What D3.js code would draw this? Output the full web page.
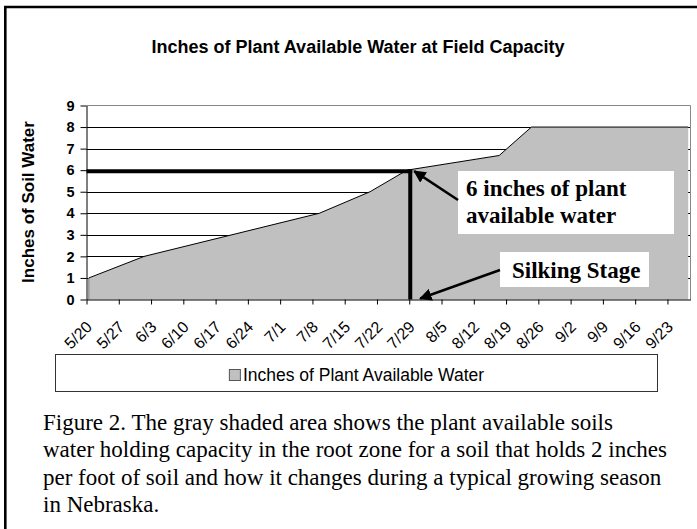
<!DOCTYPE html>
<html lang="en">
<head>
    <meta charset="UTF-8">
    <title>Inches of Plant Available Water at Field Capacity</title>
    <script src="https://d3js.org/d3.v7.min.js"></script>
    <style>
        body {
            margin: 0;
            background: #fff;
        }

        svg {
            display: block;
        }

        .sans {
            font-family: "Liberation Sans", Arial, sans-serif;
        }

        .serif {
            font-family: "Liberation Serif", "Times New Roman", serif;
        }
    </style>
</head>
<body>
    <script>
        // season data (month/day)
        const pointDates = ["5/20", "6/1", "7/9", "7/20", "7/28", "8/17", "8/24", "9/27"];
        const waterInches = [1, 2, 4, 5, 6, 6.68, 8, 8];

        const tickLabels = ["5/20", "5/27", "6/3", "6/10", "6/17", "6/24", "7/1", "7/8", "7/15",
            "7/22", "7/29", "8/5", "8/12", "8/19", "8/26", "9/2", "9/9", "9/16", "9/23"];
        const yTicks = [0, 1, 2, 3, 4, 5, 6, 7, 8, 9];

        const silkingDate = "7/29";
        const silkingWater = 6;

        const captionLines = [
            "Figure 2. The gray shaded area shows the plant available soils",
            "water holding capacity in the root zone for a soil that holds 2 inches",
            "per foot of soil and how it changes during a typical growing season",
            "in Nebraska."
        ];

        const width = 697
        const height = 529

        const parseDay = s => {
            const [m, d] = s.split("/").map(Number)
            return new Date(Date.UTC(2001, m - 1, d))
        }
        const midDay = s => d3.utcHour.offset(parseDay(s), 12)

        const data = pointDates.map((d, i) => ({ date: midDay(d), v: waterInches[i] }))

        const svg = d3.select("body").append("svg")
            .attr("width", width)
            .attr("height", height)

        // plot area
        const pLeft = 86.5, pRight = 690.5, pTop = 105.5, pBottom = 299.5

        const x = d3.scaleUtc()
            .domain([parseDay("5/20"), parseDay("9/28")])
            .range([pLeft, pRight])
        const y = d3.scaleLinear()
            .domain([0, 9])
            .range([pBottom, pTop])

        // outer frame
        svg.append("path")
            .attr("d", `M5.3,${height + 5} V7 H${width + 5}`)
            .attr("fill", "none")
            .attr("stroke", "#000")
            .attr("stroke-width", 2.6)

        svg.append("text")
            .attr("class", "sans")
            .attr("x", 358)
            .attr("y", 53)
            .attr("text-anchor", "middle")
            .attr("font-size", 18)
            .attr("font-weight", "bold")
            .text("Inches of Plant Available Water at Field Capacity")

        svg.append("text")
            .attr("class", "sans")
            .attr("transform", "translate(34,202) rotate(-90)")
            .attr("text-anchor", "middle")
            .attr("font-size", 17)
            .attr("font-weight", "bold")
            .text("Inches of Soil Water")

        // gridlines behind the area
        svg.append("g")
            .selectAll("line")
            .data(yTicks.filter(t => t > 0 && t < 9))
            .join("line")
            .attr("x1", pLeft)
            .attr("x2", pRight)
            .attr("y1", d => Math.round(y(d)) + 0.5)
            .attr("y2", d => Math.round(y(d)) + 0.5)
            .attr("stroke", "#000")
            .attr("stroke-width", 1)

        svg.append("path")
            .datum(data)
            .attr("fill", "#c0c0c0")
            .attr("d", d3.area().x(d => x(d.date)).y0(y(0)).y1(d => y(d.v)))

        svg.append("path")
            .datum(data)
            .attr("fill", "none")
            .attr("stroke", "#000")
            .attr("stroke-width", 1)
            .attr("d", d3.line().x(d => x(d.date)).y(d => y(d.v)))

        svg.append("line")
            .attr("x1", x(data[0].date)).attr("x2", x(data[0].date))
            .attr("y1", y(0)).attr("y2", y(data[0].v))
            .attr("stroke", "#777")

        // plot border (top / right)
        svg.append("path")
            .attr("d", `M${pLeft},${pTop} H${pRight} V${pBottom}`)
            .attr("fill", "none")
            .attr("stroke", "#888")

        // axes
        const xAxis = svg.append("g")
            .attr("class", "sans")
            .attr("transform", `translate(0,${pBottom})`)
            .call(d3.axisBottom(x)
                .tickValues(tickLabels.map(parseDay))
                .tickSize(5)
                .tickSizeOuter(0)
                .tickFormat((d, i) => tickLabels[i]))
        xAxis.select(".domain").attr("stroke", "#000")
        xAxis.selectAll("text")
            .attr("x", 0)
            .attr("y", 0)
            .attr("dy", 0)
            .attr("text-anchor", "end")
            .attr("transform", "translate(6,28.5) rotate(-45)")
            .attr("font-size", 16)
            .attr("font-family", null)
            .attr("fill", "#000")

        const yAxis = svg.append("g")
            .attr("class", "sans")
            .attr("transform", `translate(${pLeft},0)`)
            .call(d3.axisLeft(y)
                .tickValues(yTicks)
                .tickSize(6)
                .tickPadding(6)
                .tickSizeOuter(0))
        yAxis.selectAll("text")
            .attr("font-size", 14.5)
            .attr("font-weight", "bold")
            .attr("font-family", null)
            .attr("fill", "#000")

        // silking stage markers
        const sx = x(parseDay(silkingDate)) + 1
        const sy = y(silkingWater) + 1
        svg.append("line")
            .attr("x1", pLeft).attr("x2", sx + 2)
            .attr("y1", sy).attr("y2", sy)
            .attr("stroke", "#000").attr("stroke-width", 4)
        svg.append("line")
            .attr("x1", sx).attr("x2", sx)
            .attr("y1", sy - 2).attr("y2", y(0))
            .attr("stroke", "#000").attr("stroke-width", 4)

        svg.append("defs").append("marker")
            .attr("id", "arrow")
            .attr("viewBox", "0 0 10 10")
            .attr("refX", 9)
            .attr("refY", 5)
            .attr("markerWidth", 5)
            .attr("markerHeight", 5)
            .attr("markerUnits", "strokeWidth")
            .attr("orient", "auto")
            .append("path")
            .attr("d", "M0,0 L10,5 L0,10 z")
            .attr("fill", "#000")

        // callout boxes
        svg.append("rect")
            .attr("x", 458).attr("y", 171).attr("width", 216).attr("height", 63)
            .attr("fill", "#fff")
        svg.append("text")
            .attr("class", "serif")
            .attr("font-size", 23)
            .attr("font-weight", "bold")
            .selectAll("tspan")
            .data(["6 inches of plant", "available water"])
            .join("tspan")
            .attr("x", 466)
            .attr("y", (d, i) => 196 + i * 27)
            .text(d => d)

        svg.append("rect")
            .attr("x", 500).attr("y", 252).attr("width", 149).attr("height", 35)
            .attr("fill", "#fff")
        svg.append("text")
            .attr("class", "serif")
            .attr("x", 512)
            .attr("y", 278)
            .attr("font-size", 23)
            .attr("font-weight", "bold")
            .text("Silking Stage")

        svg.append("line")
            .attr("x1", 458).attr("y1", 200)
            .attr("x2", sx + 4).attr("y2", sy)
            .attr("stroke", "#000").attr("stroke-width", 2.5)
            .attr("marker-end", "url(#arrow)")
        svg.append("line")
            .attr("x1", 500).attr("y1", 270)
            .attr("x2", sx + 10).attr("y2", y(0) - 1)
            .attr("stroke", "#000").attr("stroke-width", 2.5)
            .attr("marker-end", "url(#arrow)")

        // legend
        const legend = svg.append("g").attr("class", "sans")
        legend.append("rect")
            .attr("x", 55.5).attr("y", 354.5).attr("width", 602).attr("height", 37)
            .attr("fill", "#fff").attr("stroke", "#333")
        const legText = legend.append("text")
            .attr("y", 381)
            .attr("font-size", 17.5)
            .text("Inches of Plant Available Water")
        const tw = legText.node().getComputedTextLength()
        const lx = 356.5 - (tw + 14) / 2
        legend.append("rect")
            .attr("x", lx + 0.5).attr("y", 369.5).attr("width", 11).attr("height", 11)
            .attr("fill", "#c0c0c0").attr("stroke", "#555")
        legText.attr("x", lx + 14)

        // caption
        svg.append("text")
            .attr("class", "serif")
            .attr("font-size", 23)
            .selectAll("tspan")
            .data(captionLines)
            .join("tspan")
            .attr("x", 43)
            .attr("y", (d, i) => 429.5 + i * 27.5)
            .text(d => d)
    </script>
</body>
</html>
